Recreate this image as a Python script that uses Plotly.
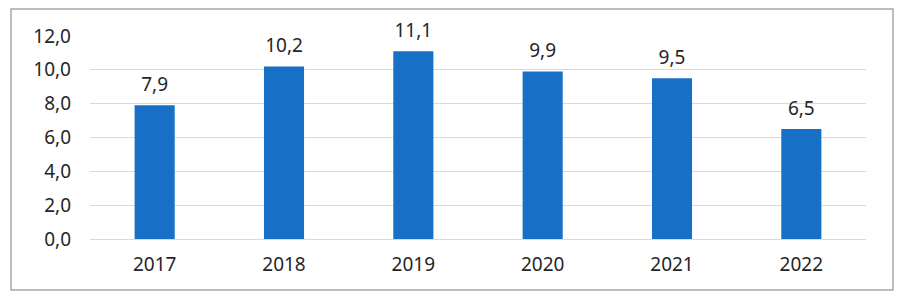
import plotly.graph_objects as go

years = ["2017", "2018", "2019", "2020", "2021", "2022"]
values = [7.9, 10.2, 11.1, 9.9, 9.5, 6.5]
y_ticks = [0, 2, 4, 6, 8, 10, 12]

# page body has an 8px default margin, so the figure is drawn 8px in
OFF = 8
W, H = 908 - OFF, 301 - OFF
L, R, T, B = 90 - OFF, 42, 36 - OFF, 62
pw, ph = W - L - R, H - T - B
FONT = "Noto Sans"

fig = go.Figure()
fig.add_trace(go.Bar(
    x=years, y=values,
    marker=dict(color="#1870C6", line=dict(width=0)),
    width=0.31, hoverinfo="skip",
))
fig.add_trace(go.Scatter(
    x=years, y=values, mode="markers+text",
    marker=dict(size=14, opacity=0),
    text=[f"{v:.1f}".replace(".", ",") for v in values],
    textposition="top center",
    textfont=dict(family=FONT, size=19, color="#262626"),
    cliponaxis=False, hoverinfo="skip",
))

fig.update_layout(
    width=W, height=H,
    margin=dict(l=L, r=R, t=T, b=B),
    paper_bgcolor="white", plot_bgcolor="white",
    separators=",.",
    showlegend=False,
    font=dict(family=FONT, size=19, color="#262626"),
    xaxis=dict(type="category", showgrid=False, showline=False, ticks="",
               ticklabelstandoff=12),
    yaxis=dict(range=[0, 12], tickvals=y_ticks, tickformat=".1f",
               showgrid=True, gridcolor="#d9d9d9", gridwidth=1,
               zeroline=True, zerolinecolor="#d9d9d9", zerolinewidth=1,
               showline=False, ticks="", ticklabelstandoff=18),
    shapes=[dict(type="rect", xref="paper", yref="paper",
                 x0=(11 - 90) / pw, x1=(893 - 90) / pw,
                 y0=(239 - 290) / ph, y1=(239 - 8.9) / ph,
                 line=dict(color="#a6a6a6", width=1.5), layer="below")],
)

fig.write_html("out.html", config={"displayModeBar": False})
